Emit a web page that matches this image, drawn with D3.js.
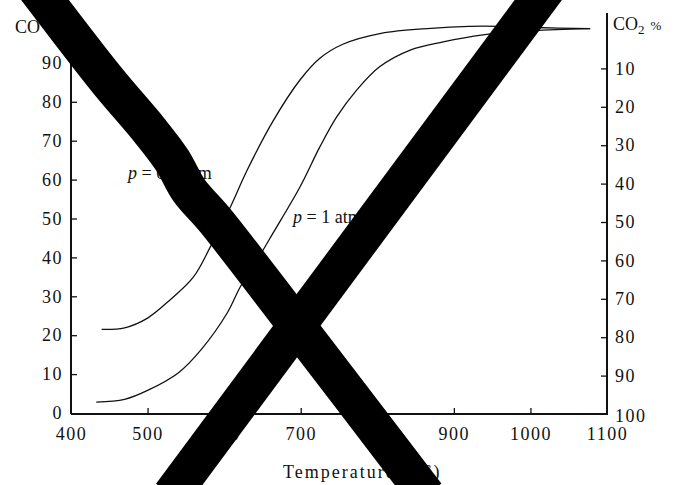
<!DOCTYPE html>
<html>
<head>
<meta charset="utf-8">
<script src="https://cdn.jsdelivr.net/npm/d3@7"></script>
<style>
  body { margin: 0; background: #fff; }
  svg { display: block; }
  text { font-family: "Liberation Serif", "DejaVu Serif", serif; fill: #111; }
</style>
</head>
<body>
<div id="chart-area"></div>
<script>
const W = 678, H = 485

// temperature (°C) and CO %
const tempLow = [440, 470, 500, 530, 560, 582, 608, 630, 664, 699, 725, 755, 805, 870, 920, 960, 1005, 1078]
const coLow   = [21.5, 21.9, 24.4, 29.2, 35, 42.7, 52.9, 62.4, 75.1, 85.6, 91.2, 94.8, 97.6, 98.9, 99.4, 99.4, 99.1, 98.8]
const tempOne = [433, 470, 500, 540, 570, 604, 621, 643, 664, 699, 725, 747, 773, 803, 843, 886, 938, 1003, 1078]
const coOne   = [2.8, 3.5, 5.8, 10.3, 16.3, 25.7, 32.4, 39.3, 46.3, 58.1, 68.4, 76.1, 83, 89, 93.3, 95.4, 97.2, 98.3, 98.8]

const xTicks = [400, 500, 600, 700, 800, 900, 1000, 1100]
const leftTicks = [0, 10, 20, 30, 40, 50, 60, 70, 80, 90]
const rightTicks = [10, 20, 30, 40, 50, 60, 70, 80, 90, 100]

// the big cross drawn over the figure, in (temperature, CO %) units
const crossA_t = [354, 447, 502, 532, 554, 588, 690, 864]
const crossA_v = [109.3, 85.6, 72.8, 65, 57.3, 49.6, 23.7, -21.1]
const crossB_t = [1022, 531]
const crossB_v = [109.3, -21.1]

const x = d3.scaleLinear().domain([400, 1100]).range([71, 607])
const y = d3.scaleLinear().domain([0, 100]).range([413, 24])
const yR = d3.scaleLinear().domain([0, 100]).range([30, 414])

const svg = d3.select("#chart-area").append("svg")
  .attr("width", W)
  .attr("height", H)

svg.append("rect").attr("width", W).attr("height", H).attr("fill", "#fff")

const line = d3.line()
  .x(d => x(d[0]))
  .y(d => y(d[1]))
  .curve(d3.curveCatmullRom.alpha(0.5))

const series = [
  d3.zip(tempLow, coLow),
  d3.zip(tempOne, coOne)
]

svg.append("g")
    .attr("fill", "none")
    .attr("stroke", "#111")
    .attr("stroke-width", 1.3)
  .selectAll("path")
  .data(series)
  .join("path")
    .attr("d", line)

// axes lines
const axisG = svg.append("g").attr("stroke", "#111").attr("stroke-width", 2)
axisG.append("line")
  .attr("x1", x(400)).attr("x2", x(400))
  .attr("y1", y(0) + 1).attr("y2", y(90.8))
axisG.append("line")
  .attr("x1", x(1100)).attr("x2", x(1100))
  .attr("y1", yR(100) + 1).attr("y2", yR(-4.4))
axisG.append("line")
  .attr("x1", x(400)).attr("x2", x(1100))
  .attr("y1", y(0) + 1).attr("y2", y(0) + 1)

const styleAxis = g => {
  g.select(".domain").remove()
  g.selectAll(".tick line").attr("stroke", "#111").attr("stroke-width", 1.3)
  g.selectAll("text")
    .attr("fill", "#111")
    .style("font-size", "18px")
    .style("letter-spacing", "1.5px")
    .style("font-family", '"Liberation Serif", serif')
}

svg.append("g")
    .attr("transform", `translate(0,${y(0) + 1})`)
    .call(d3.axisBottom(x).tickValues(xTicks).tickFormat(d3.format("d"))
      .tickSizeInner(-6).tickSizeOuter(0).tickPadding(13))
    .call(styleAxis)
    .call(g => g.selectAll(".tick").filter(d => d === 400 || d === 1100).select("line").remove())

svg.append("g")
    .attr("transform", `translate(${x(400)},0)`)
    .call(d3.axisLeft(y).tickValues(leftTicks).tickSizeInner(-6).tickSizeOuter(0).tickPadding(8))
    .call(styleAxis)
    .call(g => g.selectAll(".tick").filter(d => d === 0).select("line").remove())

svg.append("g")
    .attr("transform", `translate(${x(1100)},0)`)
    .call(d3.axisRight(yR).tickValues(rightTicks).tickSizeInner(-6).tickSizeOuter(0).tickPadding(8))
    .call(styleAxis)
    .call(g => g.selectAll(".tick").filter(d => d === 100).select("line").remove())
    .call(g => g.selectAll(".tick").filter(d => d === 100).select("text").attr("dy", "0.42em"))

// axis titles
const lt = svg.append("text").attr("x", 15).attr("y", 33).style("font-size", "18px")
lt.append("tspan").text("CO")
lt.append("tspan").attr("dx", 5).text("%")

const rt = svg.append("text").attr("x", 613).attr("y", 30).style("font-size", "18px")
rt.append("tspan").text("CO")
rt.append("tspan").attr("dy", 4).style("font-size", "13px").text("2")
rt.append("tspan").attr("dy", -4).attr("dx", 6).style("font-size", "13px").text("%")

svg.append("text")
  .attr("x", 283).attr("y", 478)
  .style("font-size", "18px")
  .style("letter-spacing", "2px")
  .text("Temperature (°C)")

// curve labels
const lab1 = svg.append("text").attr("x", 128).attr("y", 179).style("font-size", "18px")
lab1.append("tspan").style("font-style", "italic").text("p")
lab1.append("tspan").text(" = 0·1 atm")

const lab2 = svg.append("text").attr("x", 293).attr("y", 223).style("font-size", "18px")
lab2.append("tspan").style("font-style", "italic").text("p")
lab2.append("tspan").text(" = 1 atm")

// the cross over the whole figure
const crossLine = d3.line().x(d => x(d[0])).y(d => y(d[1])).curve(d3.curveCatmullRom.alpha(0.5))
svg.append("g")
    .attr("fill", "none")
    .attr("stroke", "#000")
    .attr("stroke-width", 38)
    .attr("stroke-linejoin", "round")
  .selectAll("path")
  .data([d3.zip(crossA_t, crossA_v), d3.zip(crossB_t, crossB_v)])
  .join("path")
    .attr("d", crossLine)
</script>
</body>
</html>
